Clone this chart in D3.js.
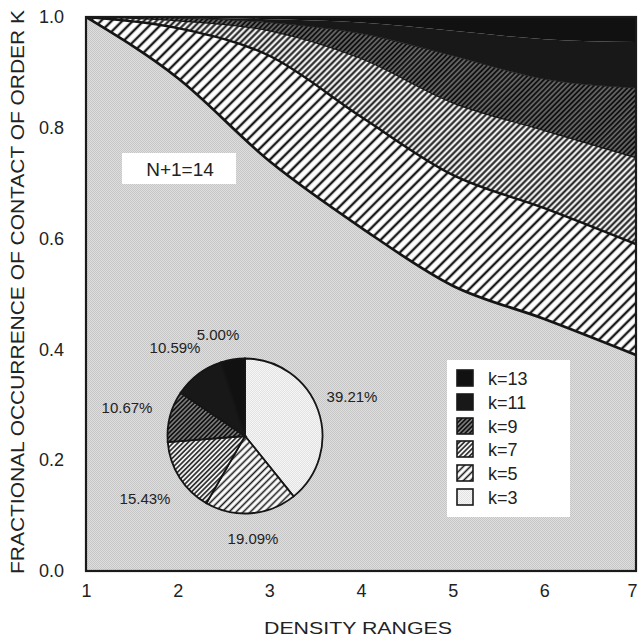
<!DOCTYPE html>
<html><head><meta charset="utf-8">
<script src="https://cdn.jsdelivr.net/npm/d3@7"></script>
<style>
body{margin:0;background:#fff;}
svg{display:block;font-family:"Liberation Sans",Arial,Helvetica,sans-serif;}
</style></head>
<body><svg id="c" width="639" height="638"></svg>
<script>
const xValues = [1, 2, 3, 4, 5, 6, 7];
const layerKeys = ["k3", "k5", "k7", "k9", "k11", "k13"];
const legendLabels = ["k=13", "k=11", "k=9", "k=7", "k=5", "k=3"];
const k3 = [1.0, 0.89, 0.74, 0.62, 0.515, 0.455, 0.39];
const k5 = [0, 0.09, 0.19, 0.20, 0.20, 0.20, 0.20];
const k7 = [0, 0.013, 0.045, 0.105, 0.13, 0.14, 0.156];
const k9 = [0, 0.005, 0.015, 0.045, 0.085, 0.093, 0.126];
const k11 = [0, 0.001, 0.006, 0.02, 0.045, 0.072, 0.083];
const k13 = [0, 0.001, 0.004, 0.01, 0.025, 0.04, 0.045];
const pieValues = [39.21, 19.09, 15.43, 10.67, 10.59, 5.00];
const pieLabels = ["39.21%", "19.09%", "15.43%", "10.67%", "10.59%", "5.00%"];
const yTicks = [0, 0.2, 0.4, 0.6, 0.8, 1.0];
const xTitle = "DENSITY RANGES";
const yTitle = "FRACTIONAL OCCURRENCE OF CONTACT OF ORDER K";
const annotation = "N+1=14";

const series = {k3, k5, k7, k9, k11, k13};
const table = xValues.map((x, i) => {
  const r = {x};
  layerKeys.forEach(k => r[k] = series[k][i]);
  return r;
});

const svg = d3.select("#c");
const defs = svg.append("defs");

function dither(id, c1, c2) {
  const p = defs.append("pattern").attr("id", id).attr("width", 2).attr("height", 2).attr("patternUnits", "userSpaceOnUse");
  p.append("rect").attr("width", 2).attr("height", 2).attr("fill", c1);
  p.append("rect").attr("width", 1).attr("height", 1).attr("fill", c2);
  p.append("rect").attr("x", 1).attr("y", 1).attr("width", 1).attr("height", 1).attr("fill", c2);
}
dither("pk3", "#dedede", "#c6c6c6");
dither("pk3w", "#f6f6f6", "#e2e2e2");
function hatch(id, spacing, width, bg, fg) {
  const p = defs.append("pattern").attr("id", id).attr("width", spacing).attr("height", spacing)
    .attr("patternUnits", "userSpaceOnUse").attr("patternTransform", "rotate(45)");
  p.append("rect").attr("width", spacing).attr("height", spacing).attr("fill", bg);
  p.append("line").attr("x1", spacing / 2).attr("y1", 0).attr("x2", spacing / 2).attr("y2", spacing)
    .attr("stroke", fg).attr("stroke-width", width);
}
hatch("pk5", 7.5, 2.4, "#ffffff", "#1a1a1a");
hatch("pk7", 4.4, 2.0, "#eeeeee", "#1a1a1a");
hatch("pk9", 3.6, 2.4, "#8a8a8a", "#111111");
hatch("pk5s", 5, 1.6, "#ffffff", "#1a1a1a");
hatch("pk7s", 3.4, 1.5, "#f0f0f0", "#1a1a1a");
hatch("pk9s", 3.2, 1.9, "#909090", "#111111");

const fills = {k3: "url(#pk3)", k5: "url(#pk5)", k7: "url(#pk7)", k9: "url(#pk9)", k11: "#181818", k13: "#111111"};
const smallFills = {k3: "url(#pk3w)", k5: "url(#pk5s)", k7: "url(#pk7s)", k9: "url(#pk9s)", k11: "#181818", k13: "#111111"};

const L = 86, R = 636, T = 17, B = 571;
const x = d3.scaleLinear().domain([1, 7]).range([L, R]);
const y = d3.scaleLinear().domain([0, 1]).range([B, T]);

const layers = d3.stack().keys(layerKeys)(table);
const area = d3.area().curve(d3.curveMonotoneX)
  .x(d => x(d.data.x)).y0(d => y(d[0])).y1(d => y(d[1]));
const line = d3.line().curve(d3.curveMonotoneX)
  .x(d => x(d.data.x)).y(d => y(d[1]));

const g = svg.append("g");
g.append("clipPath").attr("id", "clip").append("rect").attr("x", L).attr("y", T).attr("width", R - L).attr("height", B - T);
const plot = g.append("g").attr("clip-path", "url(#clip)");
plot.selectAll("path.area").data(layers).join("path").attr("class", "area")
  .attr("d", area).attr("fill", d => fills[d.key]);
const lineW = {k3: 2.7, k5: 2.4, k7: 1.2, k9: 0.8};
plot.selectAll("path.bound").data(layers.filter(d => lineW[d.key])).join("path").attr("class", "bound")
  .attr("d", line).attr("fill", "none").attr("stroke", "#151515").attr("stroke-width", d => lineW[d.key]);

g.append("rect").attr("x", L).attr("y", T).attr("width", R - L).attr("height", B - T)
  .attr("fill", "none").attr("stroke", "#1a1a1a").attr("stroke-width", 2.2);

const yAxis = d3.axisLeft(y).tickValues(yTicks).tickFormat(d3.format(".1f")).tickSize(0).tickPadding(22);
const ya = svg.append("g").attr("transform", `translate(${L},0)`).call(yAxis);
ya.select(".domain").remove();
ya.selectAll("text").attr("font-size", 18).attr("fill", "#222").attr("font-family", "Liberation Sans, Arial, sans-serif");
const xAxis = d3.axisBottom(x).tickValues(xValues).tickFormat(d3.format("d")).tickSize(0).tickPadding(13);
const xa = svg.append("g").attr("transform", `translate(0,${B})`).call(xAxis);
xa.select(".domain").remove();
xa.selectAll("text").attr("font-size", 18).attr("fill", "#222").attr("font-family", "Liberation Sans, Arial, sans-serif")
  .attr("dx", d => d === 7 ? -4 : 0);

svg.append("text").attr("x", 358).attr("y", 634).attr("text-anchor", "middle")
  .attr("font-size", 17).attr("fill", "#222").attr("textLength", 188).attr("lengthAdjust", "spacingAndGlyphs").text(xTitle);
svg.append("text").attr("transform", "translate(24,292) rotate(-90)").attr("text-anchor", "middle")
  .attr("font-size", 18).attr("fill", "#222").attr("textLength", 564).attr("lengthAdjust", "spacingAndGlyphs").text(yTitle);

svg.append("rect").attr("x", 122).attr("y", 153).attr("width", 114).attr("height", 31).attr("fill", "#fff");
svg.append("text").attr("x", 180).attr("y", 176).attr("text-anchor", "middle").attr("font-size", 19).attr("fill", "#222").text(annotation);

const lg = svg.append("g");
lg.append("rect").attr("x", 447).attr("y", 360).attr("width", 123).attr("height", 157).attr("fill", "#fff");
const legendKeys = ["k13", "k11", "k9", "k7", "k5", "k3"];
const legendY = [378, 402, 426, 449, 473, 497];
legendKeys.forEach((k, i) => {
  lg.append("rect").attr("x", 457).attr("y", legendY[i] - 8).attr("width", 16).attr("height", 16)
    .attr("fill", smallFills[k]).attr("stroke", "#1a1a1a").attr("stroke-width", 1.6);
  lg.append("text").attr("x", 488).attr("y", legendY[i] + 6.5).attr("font-size", 18).attr("fill", "#222").text(legendLabels[i]);
});

const pie = d3.pie().sort(null).value(d => d)(pieValues);
const arc = d3.arc().innerRadius(0).outerRadius(77.5);
const pg = svg.append("g").attr("transform", "translate(245,436)");
pg.selectAll("path").data(pie).join("path").attr("d", arc)
  .attr("fill", (d, i) => smallFills[layerKeys[i]]).attr("stroke", "#151515").attr("stroke-width", 1.8);
const labelPos = [[352, 397], [253, 539], [145, 499], [127, 408], [175, 348], [218, 335]];
pieLabels.forEach((t, i) => {
  svg.append("text").attr("x", labelPos[i][0]).attr("y", labelPos[i][1] + 5).attr("text-anchor", "middle")
    .attr("font-size", 15).attr("fill", "#222").text(t);
});
</script></body></html>
